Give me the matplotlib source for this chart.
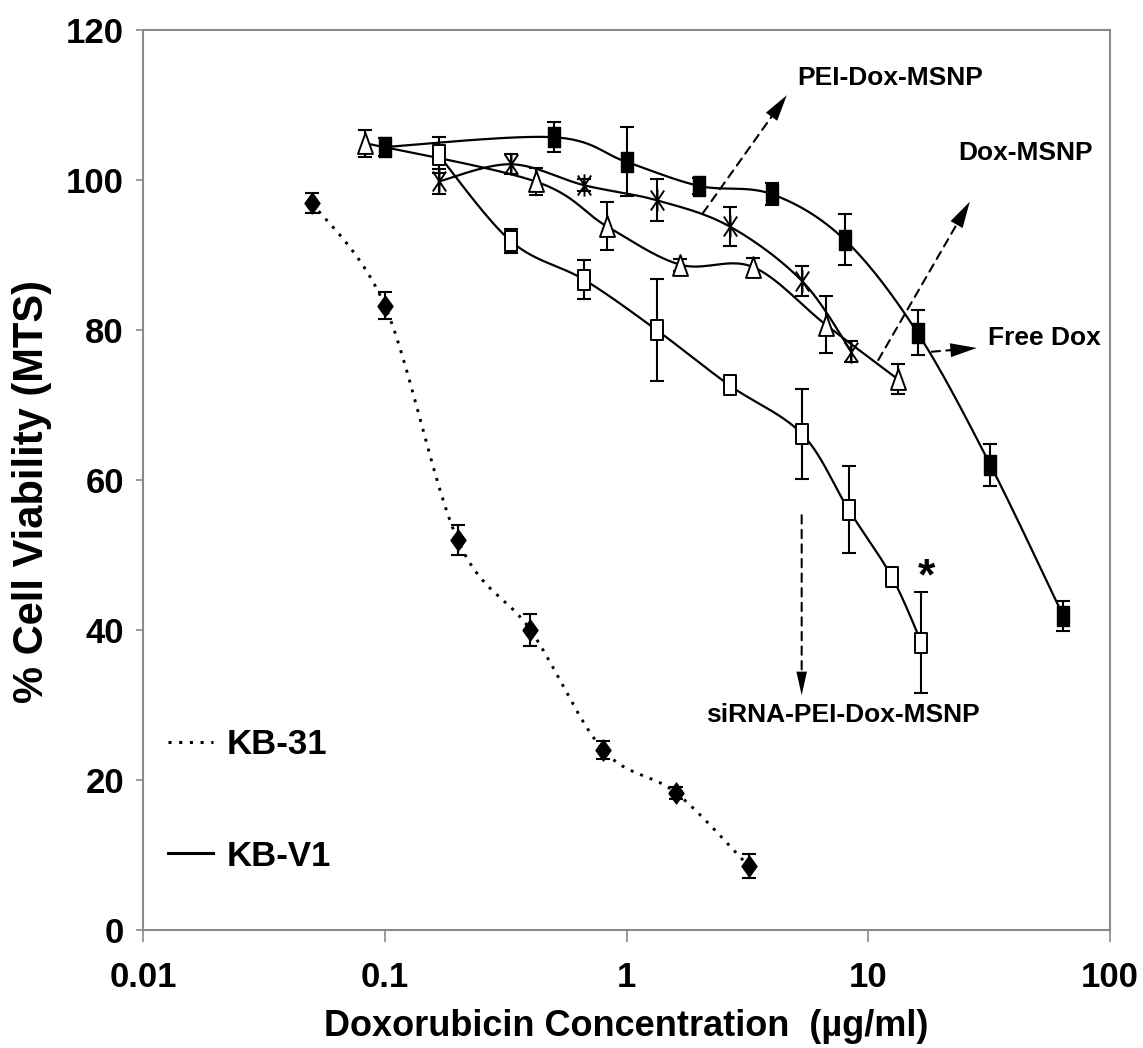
import numpy as np
import matplotlib.pyplot as plt
from matplotlib.path import Path
from matplotlib.lines import Line2D
from matplotlib.ticker import NullLocator

plt.rcParams['font.family'] = ['Liberation Sans', 'DejaVu Sans']
plt.rcParams['font.weight'] = 'bold'

# values (x in ug/ml, y in % viability)
kb31_x = [0.05, 0.1, 0.2, 0.4, 0.8, 1.6, 3.2]
kb31_y = [96.9, 83.2, 52.0, 40.0, 24.0, 18.3, 8.5]
kb31_err = [1.3, 1.8, 2.0, 2.1, 1.2, 0.8, 1.6]

free_x = [0.1, 0.5, 1, 2, 4, 8, 16, 32, 64]
free_y = [104.4, 105.7, 102.4, 99.2, 98.1, 92.0, 79.6, 62.0, 41.9]
free_err = [1.2, 2.0, 4.6, 1.1, 1.5, 3.4, 3.0, 2.8, 2.0]

dox_x = [0.083, 0.42, 0.83, 1.67, 3.33, 6.67, 13.3]
dox_y = [104.9, 99.8, 93.8, 88.7, 88.4, 80.7, 73.4]
dox_err = [1.8, 1.8, 3.2, 0.8, 1.2, 3.8, 2.0]

pei_x = [0.167, 0.333, 0.667, 1.33, 2.67, 5.33, 8.5]
pei_y = [99.8, 102.1, 99.3, 97.3, 93.8, 86.5, 77.1]
pei_err = [1.7, 1.3, 0.8, 2.8, 2.6, 2.0, 1.4]

sirna_x = [0.167, 0.333, 0.667, 1.33, 2.67, 5.33, 8.3, 12.5, 16.6]
sirna_y = [103.3, 91.8, 86.7, 80.0, 72.6, 66.1, 56.0, 47.1, 38.3]
sirna_err = [2.4, 1.6, 2.6, 6.8, 0.8, 6.0, 5.8, 1.0, 6.7]

xticks = [0.01, 0.1, 1, 10, 100]
xtick_labels = ['0.01', '0.1', '1', '10', '100']
yticks = [0, 20, 40, 60, 80, 100, 120]


def smooth(xs, ys, n=30):
    # excel-like smoothed line (catmull-rom bezier) in log-x space
    u = np.log10(xs)
    y = np.asarray(ys, float)
    pu = np.r_[u[0], u, u[-1]]
    py = np.r_[y[0], y, y[-1]]
    t = np.linspace(0, 1, n)
    uu, yy = [], []
    for i in range(len(u) - 1):
        p0 = np.array([pu[i], py[i]])
        p1 = np.array([pu[i + 1], py[i + 1]])
        p2 = np.array([pu[i + 2], py[i + 2]])
        p3 = np.array([pu[i + 3], py[i + 3]])
        b1 = p1 + (p2 - p0) / 6
        b2 = p2 - (p3 - p1) / 6
        pts = (np.outer((1 - t) ** 3, p1) + np.outer(3 * (1 - t) ** 2 * t, b1)
               + np.outer(3 * (1 - t) * t ** 2, b2) + np.outer(t ** 3, p2))
        uu.extend(pts[:, 0])
        yy.extend(pts[:, 1])
    return 10 ** np.array(uu), np.array(yy)


# tall markers like the original
sq = Path([(-0.33, -0.5), (0.33, -0.5), (0.33, 0.5), (-0.33, 0.5), (-0.33, -0.5)], closed=True)
tri = Path([(0, 0.5), (-0.36, -0.5), (0.36, -0.5), (0, 0.5)], closed=True)
dia = Path([(0, 0.5), (0.36, 0), (0, -0.5), (-0.36, 0), (0, 0.5)], closed=True)
star = Path([(-0.3, -0.45), (0.3, 0.45), (-0.3, 0.45), (0.3, -0.45), (0, -0.5), (0, 0.5)],
            [Path.MOVETO, Path.LINETO, Path.MOVETO, Path.LINETO, Path.MOVETO, Path.LINETO])

fig = plt.figure(figsize=(11.43, 10.48), dpi=100)
ax = fig.add_axes([0.1254, 0.1126, 0.8457, 0.8588])
ax.set_xscale('log')

dotted = (0, (1, 2.5))
ax.plot(*smooth(kb31_x, kb31_y), color='k', lw=2.1, ls=dotted)
for xs, ys in [(free_x, free_y), (dox_x, dox_y), (pei_x, pei_y), (sirna_x, sirna_y)]:
    ax.plot(*smooth(xs, ys), color='k', lw=1.6)

eb = dict(fmt='none', ecolor='k', elinewidth=1.5, capsize=4.7, capthick=1.5)
ax.errorbar(kb31_x, kb31_y, yerr=kb31_err, **eb)
ax.errorbar(free_x, free_y, yerr=free_err, **eb)
ax.errorbar(dox_x, dox_y, yerr=dox_err, **eb)
ax.errorbar(pei_x, pei_y, yerr=pei_err, **eb)
ax.errorbar(sirna_x, sirna_y, yerr=sirna_err, **eb)

ax.plot(kb31_x, kb31_y, ls='none', marker=dia, ms=15, mfc='k', mec='k', mew=1)
ax.plot(free_x, free_y, ls='none', marker=sq, ms=14, mfc='k', mec='k', mew=1)
ax.plot(dox_x, dox_y, ls='none', marker=tri, ms=15, mfc='w', mec='k', mew=1.4)
ax.plot(pei_x, pei_y, ls='none', marker=star, ms=16, mfc='none', mec='k', mew=1.4)
ax.plot(sirna_x, sirna_y, ls='none', marker=sq, ms=14, mfc='w', mec='k', mew=1.4)

ax.set_xlim(0.01, 100)
ax.set_ylim(0, 120)
ax.set_xticks(xticks)
ax.set_xticklabels(xtick_labels)
ax.xaxis.set_minor_locator(NullLocator())
ax.set_yticks(yticks)
for s in ax.spines.values():
    s.set_color('#8a8a8a')
    s.set_linewidth(1.5)
ax.tick_params(axis='x', direction='out', length=8.5, width=1.2, color='#8a8a8a',
               pad=14, labelsize=25)
ax.tick_params(axis='y', direction='out', length=5, width=1.2, color='#8a8a8a',
               pad=9, labelsize=25)

ax.set_xlabel('Doxorubicin Concentration  (\u00b5g/ml)', fontsize=26, fontweight='bold')
ax.set_ylabel('% Cell Viability (MTS)', fontsize=30, fontweight='bold')
ax.xaxis.set_label_coords(0.5, -0.088)
ax.yaxis.set_label_coords(-0.095, 0.487)


# dashed pointer lines with solid heads
def pointer(start, tip, hl=1.9, hw=0.5):
    ax.annotate('', xy=tip, xytext=start,
                arrowprops=dict(arrowstyle='-', ls=(0, (4, 3)), lw=1.5, color='k',
                                shrinkA=0, shrinkB=hl * 10 * 0.6))
    ax.annotate('', xy=tip, xytext=start,
                arrowprops=dict(arrowstyle='-|>,head_length=%g,head_width=%g' % (hl, hw),
                                lw=0, fc='k', ec='none', shrinkA=0, shrinkB=0))


pointer((2.07, 95.6), (4.6, 111.3))
pointer((11.0, 76.0), (26.3, 97.1))
pointer((18.3, 77.1), (28.1, 77.6))
pointer((5.3, 55.3), (5.3, 31.3), hl=1.7, hw=0.38)

ax.text(12.3, 113.6, 'PEI-Dox-MSNP', ha='center', va='center', fontsize=19)
ax.text(44.9, 103.6, 'Dox-MSNP', ha='center', va='center', fontsize=19)
ax.text(31.3, 78.9, 'Free Dox', ha='left', va='center', fontsize=19)
ax.text(2.13, 28.7, 'siRNA-PEI-Dox-MSNP', ha='left', va='center', fontsize=19)
ax.text(17.4, 47.0, '*', ha='center', va='center', fontsize=32)

handles = [Line2D([], [], color='k', lw=2.2, ls=dotted), Line2D([], [], color='k', lw=2.2)]
ax.legend(handles, ['KB-31', 'KB-V1'], loc='upper left', bbox_to_anchor=(0.0255, 0.224),
          frameon=False, prop={'weight': 'bold', 'size': 25}, handlelength=1.3,
          handletextpad=0.4, labelspacing=2.25, borderaxespad=0, borderpad=0)

fig.savefig('out.png', dpi=100)
